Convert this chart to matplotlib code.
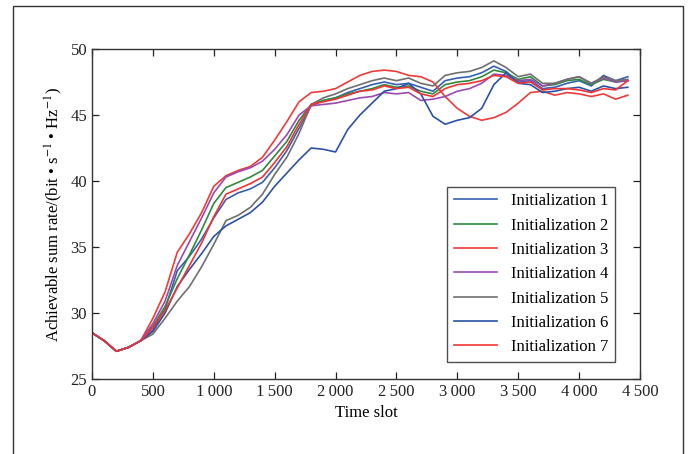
import matplotlib
matplotlib.use("Agg")
import matplotlib.pyplot as plt
from matplotlib.patches import Rectangle

plt.rcParams['font.family'] = ['Liberation Serif', 'DejaVu Serif']
plt.rcParams['mathtext.fontset'] = 'stix'

# time slots (every 100)
t = list(range(0, 4500, 100))

start = [28.5, 27.9, 27.1, 27.4, 27.9]

init1 = start + [28.7, 30.3, 33.2, 34.3, 35.6, 37.2, 38.6, 39.1, 39.4, 39.9, 41.0,
                 42.3, 44.0, 45.7, 46.1, 46.3, 46.7, 47.0, 47.3, 47.5, 47.3,
                 47.4, 47.1, 46.8, 47.6, 47.8, 47.9, 48.2, 48.7, 48.3, 47.5,
                 47.6, 47.0, 47.1, 47.4, 47.6, 47.2, 48.0, 47.6, 47.9]
init2 = start + [29.0, 30.5, 32.6, 34.4, 36.3, 38.3, 39.5, 39.9, 40.3, 40.8, 41.9,
                 43.0, 44.6, 45.8, 46.1, 46.3, 46.6, 46.8, 47.0, 47.3, 47.1,
                 47.2, 46.8, 46.6, 47.3, 47.5, 47.6, 47.9, 48.4, 48.2, 47.7,
                 47.9, 47.2, 47.3, 47.6, 47.7, 47.3, 47.7, 47.5, 47.6]
init3 = start + [29.6, 31.6, 34.6, 36.0, 37.6, 39.6, 40.4, 40.8, 41.1, 41.8, 43.1,
                 44.5, 46.0, 46.7, 46.8, 47.0, 47.5, 48.0, 48.3, 48.4, 48.3,
                 48.0, 47.9, 47.5, 46.4, 45.5, 44.9, 44.6, 44.8, 45.2, 45.9,
                 46.7, 46.8, 46.5, 46.7, 46.6, 46.4, 46.6, 46.2, 46.5]
init4 = start + [29.2, 30.9, 33.6, 35.4, 37.2, 39.1, 40.3, 40.7, 41.0, 41.5, 42.4,
                 43.5, 45.0, 45.7, 45.8, 45.9, 46.1, 46.3, 46.4, 46.7, 46.6,
                 46.7, 46.1, 46.2, 46.4, 46.8, 47.0, 47.4, 48.1, 48.0, 47.6,
                 47.7, 47.2, 47.4, 47.7, 47.9, 47.4, 47.8, 47.5, 47.6]
init5 = start + [28.4, 29.6, 30.9, 32.0, 33.5, 35.2, 37.0, 37.4, 38.0, 39.0, 40.5,
                 41.8, 43.6, 45.8, 46.3, 46.6, 47.0, 47.3, 47.6, 47.8, 47.6,
                 47.8, 47.4, 47.2, 48.0, 48.2, 48.3, 48.6, 49.1, 48.6, 47.9,
                 48.1, 47.4, 47.4, 47.7, 47.9, 47.4, 47.9, 47.6, 47.7]
init6 = start + [28.6, 30.0, 32.0, 33.3, 34.5, 35.8, 36.6, 37.1, 37.6, 38.4, 39.6,
                 40.6, 41.6, 42.5, 42.4, 42.2, 43.9, 45.0, 45.9, 46.8, 47.0,
                 47.4, 46.6, 44.9, 44.3, 44.6, 44.8, 45.5, 47.3, 48.2, 47.4,
                 47.3, 46.7, 46.8, 47.0, 47.1, 46.8, 47.2, 47.0, 47.1]
init7 = start + [28.9, 30.2, 31.9, 33.6, 35.3, 37.3, 39.0, 39.4, 39.8, 40.3, 41.4,
                 42.6, 44.3, 45.8, 46.0, 46.2, 46.5, 46.8, 46.9, 47.2, 47.0,
                 47.1, 46.6, 46.4, 47.0, 47.3, 47.4, 47.6, 48.0, 47.9, 47.4,
                 47.5, 46.9, 47.0, 47.0, 46.9, 46.7, 47.0, 46.9, 47.6]

series = [init1, init2, init3, init4, init5, init6, init7]
labels = ['Initialization %d' % (i + 1) for i in range(7)]
colors = ['#3660b4', '#2f8a3c', '#f03a3a', '#9a4aae', '#6f6f6f', '#2b52a6', '#f23333']

xticks = [0, 500, 1000, 1500, 2000, 2500, 3000, 3500, 4000, 4500]
xticklabels = ['0', '500', '1\u2009000', '1\u2009500', '2\u2009000', '2\u2009500',
               '3\u2009000', '3\u2009500', '4\u2009000', '4\u2009500']
yticks = [25, 30, 35, 40, 45, 50]

fig = plt.figure(figsize=(6.92, 4.54), dpi=100)
ax = fig.add_axes([92 / 692, 1 - 379 / 454, 548 / 692, 330 / 454])

for y, lab, c in zip(series, labels, colors):
    ax.plot(t, y, color=c, lw=1.2, label=lab)

ax.set_xlim(0, 4500)
ax.set_ylim(25, 50)
ax.set_xticks(xticks)
ax.set_xticklabels(xticklabels)
ax.set_yticks(yticks)
ax.tick_params(direction='in', top=True, right=True, length=5, width=0.9,
               labelsize=12, colors='#222222')
for s in ax.spines.values():
    s.set_color('#333333')
    s.set_linewidth(1.0)

ax.set_xlabel('Time slot', fontsize=12)
ax.set_ylabel(r'Achievable sum rate/(bit • s$^{-1}$ • Hz$^{-1}$)', fontsize=12)

leg = ax.legend(loc='lower right', fontsize=12, frameon=True, fancybox=False,
                handlelength=2.6, borderpad=0.4, labelspacing=0.5,
                borderaxespad=0, bbox_to_anchor=(0.954, 0.052))
leg.get_frame().set_edgecolor('#222222')
leg.get_frame().set_linewidth(1.0)

# outer frame
fig.patches.append(Rectangle((13 / 692, -0.1), 670 / 692, 1.1 - 6 / 454,
                             transform=fig.transFigure, fill=False,
                             edgecolor='#333333', lw=1.0))

fig.savefig('out.png', dpi=100)
